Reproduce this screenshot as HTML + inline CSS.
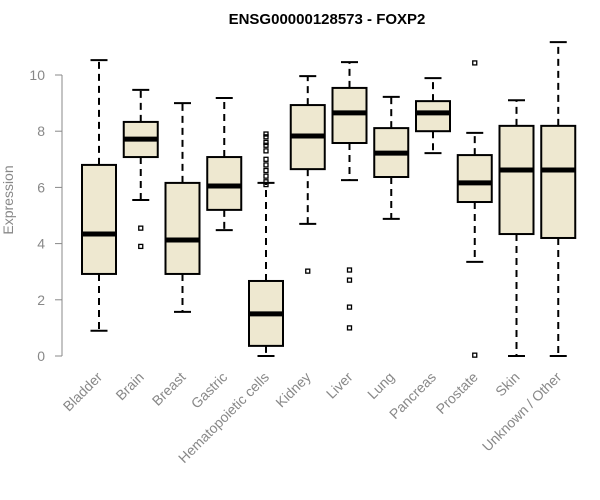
<!DOCTYPE html>
<html><head><meta charset="utf-8"><style>
html,body{margin:0;padding:0;background:#fff;}
svg{display:block;font-family:"Liberation Sans",Arial,sans-serif;}
</style></head><body>
<svg id="chart" width="600" height="500" viewBox="0 0 600 500">
<text x="327" y="24" text-anchor="middle" font-size="15" font-weight="bold" fill="#000">ENSG00000128573 - FOXP2</text>
<text transform="translate(13,200) rotate(-90)" text-anchor="middle" font-size="14" fill="#888">Expression</text>
<g id="plot"></g>
</svg>
<script>
const categories=["Bladder","Brain","Breast","Gastric","Hematopoietic cells","Kidney","Liver","Lung","Pancreas","Prostate","Skin","Unknown / Other"];
const whiskerLow=[0.9,5.55,1.57,4.48,0,4.7,6.26,4.88,7.22,3.35,0,0];
const q1=[2.92,7.08,2.92,5.2,0.36,6.65,7.58,6.37,8.0,5.48,4.34,4.2];
const medians=[4.34,7.72,4.13,6.05,1.5,7.83,8.65,7.22,8.65,6.16,6.62,6.62];
const q3=[6.8,8.33,6.16,7.08,2.67,8.93,9.54,8.11,9.07,7.15,8.19,8.19];
const whiskerHigh=[10.53,9.47,9.0,9.18,6.16,9.96,10.46,9.22,9.89,7.94,9.1,11.17];
const outliers=[[],[4.55,3.9],[],[],[7.9,7.8,7.6,7.5,7.3,7.0,6.8,6.6,6.4,6.2,6.1],[3.02],[3.06,2.7,1.74,1.0],[],[],[10.43,0.03],[],[]];
const yTicks=[0,2,4,6,8,10];

const NS="http://www.w3.org/2000/svg";
const g=document.getElementById('plot');
const y=v=>356-v*28.1;
const x=i=>99+i*41.75;
const bw=34;
function mk(t,a,parent){const e=document.createElementNS(NS,t);for(const k in a)e.setAttribute(k,a[k]);(parent||g).appendChild(e);return e;}

// y axis
const ax=mk('line',{x1:62,y1:y(0),x2:62,y2:y(10),stroke:'#888','stroke-width':1});


yTicks.forEach(t=>{
  const tk=mk('line',{x1:55,y1:y(t),x2:62,y2:y(t),stroke:'#888'});
  
  
  const tl=mk('text',{x:45,y:y(t)+5,'text-anchor':'end','font-size':14,fill:'#888'});
  tl.textContent=t;
  
  
});

categories.forEach((c,i)=>{
  const cx=x(i);
  const grp=mk('g',{});
  
  
  mk('line',{x1:cx,y1:y(q3[i]),x2:cx,y2:y(whiskerHigh[i]),stroke:'#000','stroke-width':2,'stroke-dasharray':'7,5'},grp);
  mk('line',{x1:cx,y1:y(q1[i]),x2:cx,y2:y(whiskerLow[i]),stroke:'#000','stroke-width':2,'stroke-dasharray':'7,5'},grp);
  mk('line',{x1:cx-8.5,y1:y(whiskerHigh[i]),x2:cx+8.5,y2:y(whiskerHigh[i]),stroke:'#000','stroke-width':2},grp);
  mk('line',{x1:cx-8.5,y1:y(whiskerLow[i]),x2:cx+8.5,y2:y(whiskerLow[i]),stroke:'#000','stroke-width':2},grp);
  mk('rect',{x:cx-bw/2,y:y(q3[i]),width:bw,height:y(q1[i])-y(q3[i]),fill:'#EEE8D0',stroke:'#000','stroke-width':2},grp);
  mk('line',{x1:cx-bw/2,y1:y(medians[i]),x2:cx+bw/2,y2:y(medians[i]),stroke:'#000','stroke-width':5},grp);
  outliers[i].forEach(o=>{
    const p=mk('rect',{x:cx-2,y:y(o)-2,width:4,height:4,fill:'none',stroke:'#000','stroke-width':1.3},grp);
    
    
  });
  const lb=mk('text',{x:cx+4,y:378,'text-anchor':'end','font-size':14,fill:'#888',transform:`rotate(-45 ${cx+4} 378)`});
  lb.textContent=c;
  
  
});
</script>
</body></html>
